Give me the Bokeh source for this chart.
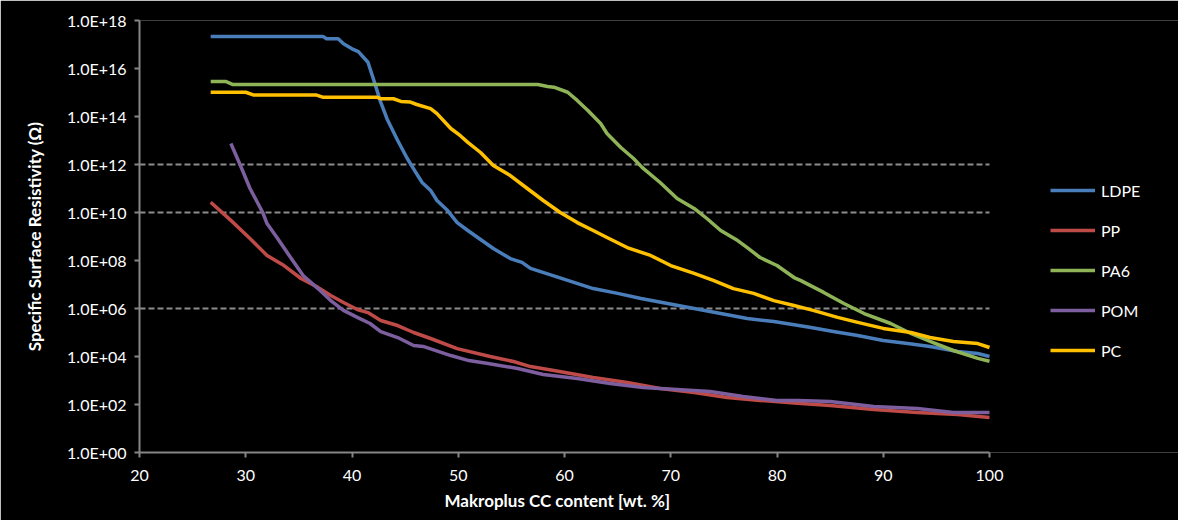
from bokeh.plotting import figure
from bokeh.models import FixedTicker, CustomJSTickFormatter, Legend, LegendItem, Title
from bokeh.embed import file_html
from bokeh.resources import INLINE

# ---- data (x = Makroplus CC content wt.%, values = log10 of resistivity) ----
ldpe_x = [26.7, 37.3, 37.6, 38.7, 39.2, 40.0, 40.6, 41.5, 42.0, 42.7, 43.3, 44.3, 45.2, 46.0, 46.6,
          47.4, 48.0, 49.0, 49.9, 50.9, 53.3, 54.9, 56.0, 56.8, 60.3, 62.7, 65.0, 67.2, 69.7, 72.2,
          74.7, 77.2, 79.7, 81.9, 83.2, 85.3, 87.6, 90.0, 92.3, 94.4, 97.0, 98.9, 100.0]
ldpe_e = [17.33, 17.33, 17.24, 17.24, 17.03, 16.82, 16.7, 16.26, 15.58, 14.6, 13.9, 13.0, 12.25, 11.67, 11.25,
          10.92, 10.5, 10.08, 9.58, 9.25, 8.5, 8.08, 7.92, 7.67, 7.17, 6.83, 6.63, 6.42, 6.21, 6.0,
          5.79, 5.58, 5.46, 5.3, 5.21, 5.04, 4.875, 4.67, 4.54, 4.42, 4.21, 4.125, 4.0]

pp_x = [26.7, 28.6, 30.4, 32.0, 33.6, 35.2, 36.8, 38.0, 39.2, 40.5, 41.5, 42.7, 44.3, 45.8, 47.4, 49.9,
        53.0, 55.2, 56.8, 59.0, 62.7, 65.9, 69.0, 72.2, 75.3, 78.4, 81.6, 85.0, 89.1, 93.2, 97.0, 100.0]
pp_e = [10.43, 9.67, 8.92, 8.21, 7.79, 7.25, 6.88, 6.54, 6.25, 5.96, 5.83, 5.5, 5.29, 5.0, 4.75, 4.33,
        4.0, 3.79, 3.58, 3.42, 3.125, 2.92, 2.67, 2.5, 2.29, 2.17, 2.06, 1.96, 1.79, 1.67, 1.58, 1.46]

pa6_x = [26.7, 28.1, 28.8, 57.5, 58.4, 59.0, 60.3, 61.2, 62.2, 63.4, 64.0, 65.3, 66.5, 67.3, 69.0, 70.6,
         72.2, 73.4, 74.7, 76.3, 77.2, 78.4, 80.0, 81.6, 82.2, 84.4, 86.3, 88.2, 90.7, 92.6, 94.7, 96.6,
         98.9, 100.0]
pa6_e = [15.46, 15.46, 15.33, 15.33, 15.25, 15.22, 15.01, 14.67, 14.25, 13.71, 13.29, 12.71, 12.25, 11.88,
         11.25, 10.58, 10.17, 9.75, 9.25, 8.83, 8.54, 8.125, 7.79, 7.29, 7.17, 6.67, 6.21, 5.79, 5.375,
         4.96, 4.58, 4.25, 3.92, 3.8]

pom_x = [28.6, 29.5, 30.4, 31.6, 32.0, 33.0, 33.9, 35.4, 36.8, 38.0, 39.2, 40.5, 41.7, 42.7, 44.3, 45.8,
         46.7, 49.3, 51.0, 52.8, 55.6, 58.0, 61.2, 64.3, 67.4, 70.6, 73.7, 76.8, 80.0, 82.0, 85.0, 89.1,
         93.2, 96.6, 100.0]
pom_e = [12.875, 11.96, 11.0, 10.0, 9.54, 8.92, 8.33, 7.375, 6.83, 6.33, 5.92, 5.63, 5.375, 5.04, 4.79,
         4.46, 4.42, 4.04, 3.83, 3.71, 3.5, 3.25, 3.08, 2.875, 2.71, 2.625, 2.54, 2.33, 2.17, 2.17, 2.125,
         1.92, 1.83, 1.67, 1.67]

pc_x = [26.7, 30.0, 30.7, 36.6, 37.3, 42.4, 42.7, 43.9, 44.6, 45.5, 46.1, 47.4, 48.0, 49.3, 50.2, 50.9,
        52.1, 53.3, 54.9, 56.5, 58.0, 59.6, 61.2, 62.7, 64.0, 65.9, 68.1, 70.0, 72.2, 74.0, 75.9, 77.8,
        79.7, 81.6, 83.4, 85.7, 87.6, 90.0, 92.6, 94.4, 96.6, 98.9, 100.0]
pc_e = [15.01, 15.01, 14.9, 14.9, 14.8, 14.8, 14.74, 14.74, 14.63, 14.6, 14.5, 14.33, 14.12, 13.5, 13.2,
        12.92, 12.5, 11.96, 11.54, 11.0, 10.5, 10.0, 9.58, 9.25, 8.96, 8.54, 8.21, 7.79, 7.46, 7.17, 6.83,
        6.63, 6.33, 6.125, 5.92, 5.63, 5.42, 5.17, 5.0, 4.79, 4.625, 4.54, 4.375]

x_ticks = [20, 30, 40, 50, 60, 70, 80, 90, 100]
y_ticks = [1e0, 1e2, 1e4, 1e6, 1e8, 1e10, 1e12, 1e14, 1e16, 1e18]
y_tick_labels = ["1.0E+00", "1.0E+02", "1.0E+04", "1.0E+06", "1.0E+08",
                 "1.0E+10", "1.0E+12", "1.0E+14", "1.0E+16", "1.0E+18"]
ref_lines = [1e6, 1e10, 1e12]
x_title = "Makroplus CC content [wt. %]"
y_title = "Specific Surface Resistivity (Ω)"

series = [
    ("LDPE", ldpe_x, ldpe_e, "#4a7ebb"),
    ("PP", pp_x, pp_e, "#be4b48"),
    ("PA6", pa6_x, pa6_e, "#8fb357"),
    ("POM", pom_x, pom_e, "#7d5fa0"),
    ("PC", pc_x, pc_e, "#ffc000"),
]

FONT = "Lato"
AXIS_GRAY = "#868686"

# layout: axes drawn only over 20..100 (850 px); the frame continues to the right for the legend
W, H = 1178, 520
LEFT, TOP, BOTTOM = 139, 20, 68
axis_px = 850
x_end = x_ticks[0] + (W - LEFT) * (x_ticks[-1] - x_ticks[0]) / axis_px

p = figure(width=W, height=H, x_range=(x_ticks[0], x_end), y_range=(y_ticks[0], y_ticks[-1]),
           y_axis_type="log", output_backend="svg", toolbar_location=None,
           background_fill_color="black", border_fill_color="black",
           min_border_left=LEFT, min_border_top=TOP, min_border_right=0, min_border_bottom=BOTTOM)
p.outline_line_color = None
p.grid.visible = False

# dashed reference lines across the data area
p.segment(x0=[x_ticks[0]] * len(ref_lines), x1=[x_ticks[-1]] * len(ref_lines),
          y0=ref_lines, y1=ref_lines, line_color="#8c8c8c", line_width=2, line_dash="6 3")

items = []
for name, xs, es, col in series:
    ys = [10 ** e for e in es]
    r = p.line(xs, ys, line_color=col, line_width=3.5, line_join="round")
    items.append(LegendItem(label=name, renderers=[r]))

p.xaxis.ticker = FixedTicker(ticks=x_ticks)
p.xaxis.bounds = (x_ticks[0], x_ticks[-1])
p.yaxis.ticker = FixedTicker(ticks=y_ticks)
p.yaxis.formatter = CustomJSTickFormatter(args=dict(yt=y_ticks, lbl=y_tick_labels), code="""
    let best = 0, bd = 1e99;
    for (let i = 0; i < yt.length; i++) {
        const d = Math.abs(Math.log10(yt[i]) - Math.log10(tick));
        if (d < bd) { bd = d; best = i; }
    }
    return lbl[best];
""")

for ax in (p.xaxis, p.yaxis):
    ax.axis_line_color = AXIS_GRAY
    ax.axis_line_width = 2
    ax.major_tick_line_color = AXIS_GRAY
    ax.major_tick_line_width = 2
    ax.major_tick_out = 5
    ax.major_tick_in = 0
    ax.minor_tick_line_color = None
    ax.major_label_text_color = "white"
    ax.major_label_text_font = FONT
    ax.major_label_text_font_size = "16px"
    ax.axis_label_text_color = "white"
    ax.axis_label_text_font = FONT
    ax.axis_label_text_font_style = "bold"
    ax.axis_label_text_font_size = "17px"

p.yaxis.axis_label = y_title
p.xaxis.major_label_standoff = 12
p.yaxis.major_label_standoff = 8
p.yaxis.axis_label_standoff = 19

# x title centred under the 20..100 axis (not under the whole frame)
p.add_layout(Title(text=x_title, align="left", offset=305, standoff=9,
                   text_color="white", text_font=FONT, text_font_style="bold",
                   text_font_size="17px"), "below")

legend = Legend(items=items, location=(911, 92), orientation="vertical",
                background_fill_alpha=0, border_line_color=None,
                label_text_color="white", label_text_font=FONT, label_text_font_size="16px",
                glyph_width=45, glyph_height=20, label_height=20, spacing=20,
                label_standoff=6, padding=0, margin=0)
p.add_layout(legend, "center")

open("out.html", "w").write(file_html(p, INLINE))
